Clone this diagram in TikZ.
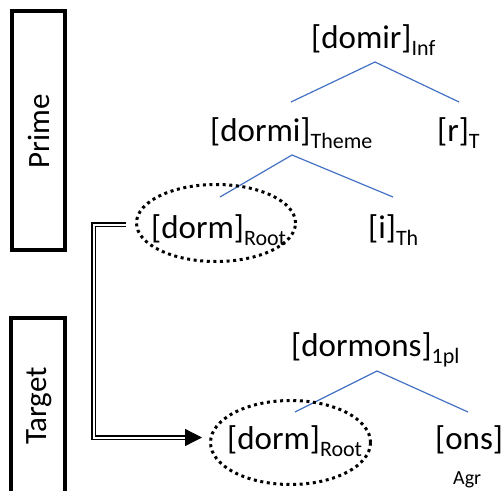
\documentclass[tikz,border=0pt]{standalone}
\usepackage{fontspec}
\setmainfont{Carlito}
\usetikzlibrary{shapes.geometric,arrows.meta}
\definecolor{treeblue}{HTML}{4472C4}
\newcommand\subtag[1]{\raisebox{-7pt}{\fontsize{22}{23}\selectfont #1}}
\tikzset{
  frame/.style={draw=black, line width=4pt},
  framelabel/.style={rotate=90, inner sep=0pt, font=\fontsize{31}{33}\selectfont},
  morph/.style={anchor=base west, inner sep=0pt, font=\fontsize{33}{35}\selectfont},
  branch/.style={draw=treeblue, line width=1.2pt},
  ring/.style={ellipse, draw=black, line width=3pt, dash pattern=on 3pt off 3.6pt, inner sep=0pt},
  link/.style={draw=black, double=white, line width=1.3pt, double distance=2pt},
}
\begin{document}
\begin{tikzpicture}[x=1pt,y=-1pt]
\useasboundingbox (0,0) rectangle (503,490);
\clip (0,0) rectangle (503,490);

% side frames
\draw[frame] (12,11) rectangle (65,250);
\node[framelabel] (prime) at (39,131) {Prime};
\draw[frame] (11.3,317.7) rectangle (65,496);
\node[framelabel] (target) at (39,406) {Target};

% prime tree
\node[morph] (domir) at (311,48) {[domir]\subtag{Inf}};
\node[morph] (dormi) at (210,141) {[dormi]\subtag{Theme}};
\node[morph] (r) at (437,141) {[r]\subtag{T}};
\node[morph] (dormA) at (151,238) {[dorm]\subtag{Root}};
\node[morph] (i) at (368,238) {[i]\subtag{Th}};

\coordinate (domirTop) at (375,62);
\coordinate (domirL) at (291,102);
\coordinate (domirR) at (459,102);
\draw[branch] (domirL) -- (domirTop) -- (domirR);

\coordinate (dormiTop) at (292,155);
\coordinate (dormiL) at (220,197);
\coordinate (dormiR) at (393,197);
\draw[branch] (dormiL) -- (dormiTop) -- (dormiR);

% target tree
\node[morph] (dormons) at (291,356) {[dormons]\subtag{1pl}};
\node[morph] (dormB) at (227,449) {[dorm]\subtag{Root}};
\node[morph] (ons) at (435,449) {[ons]};
\node[anchor=base west, inner sep=0pt, font=\fontsize{20}{22}\selectfont] (agr) at (453,484) {Agr};

\coordinate (dormonsTop) at (377,371);
\coordinate (dormonsL) at (295,412);
\coordinate (dormonsR) at (468,412);
\draw[branch] (dormonsL) -- (dormonsTop) -- (dormonsR);

% dotted rings round the roots
\node[ring, minimum width=159pt, minimum height=77pt] (ringA) at (216,223) {};
\node[ring, minimum width=160pt, minimum height=84pt] (ringB) at (290.5,442.5) {};

% root-to-root link
\coordinate (bend) at (93.5,224.5);
\draw[link, -{Triangle[length=17pt,width=17pt]}]
  ([xshift=-9pt,yshift=-1.5pt]ringA.west) -- (bend) |- ([xshift=-7pt,yshift=5pt]ringB.west);
\end{tikzpicture}
\end{document}
